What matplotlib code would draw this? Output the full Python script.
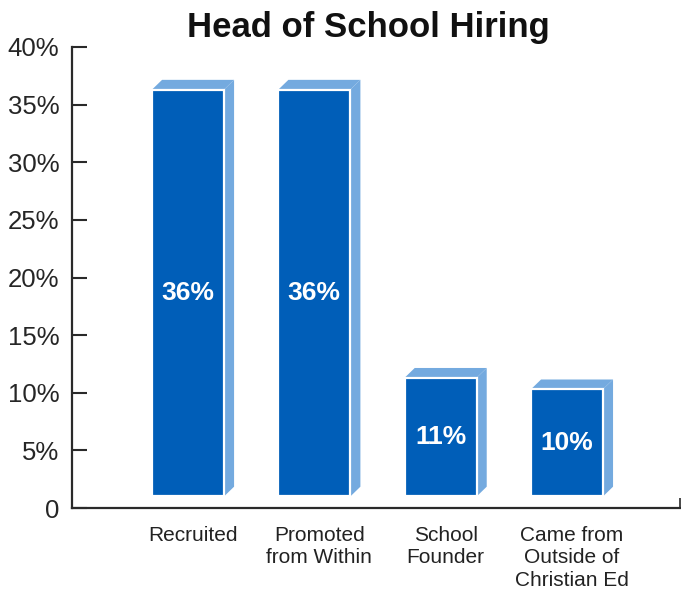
import matplotlib
matplotlib.use("Agg")
from matplotlib import pyplot as plt
from matplotlib.patches import Polygon

plt.rcParams['font.family'] = ['Liberation Sans', 'DejaVu Sans']

categories = ["Recruited", "Promoted\nfrom Within", "School\nFounder",
              "Came from\nOutside of\nChristian Ed"]
values = [36, 36, 11, 10]
yticks = [0, 5, 10, 15, 20, 25, 30, 35, 40]
ytick_labels = ["0", "5%", "10%", "15%", "20%", "25%", "30%", "35%", "40%"]

FRONT = "#005EB8"
SIDE = "#74AADF"
AXIS = "#2a2a2a"

# 3d look: raised floor and depth offsets
base = 1.0
lift = 0.3
width = 0.57
dx = 0.08
dy = 0.85

fig = plt.figure(figsize=(6.81, 5.92), dpi=100)
ax = fig.add_axes([72 / 681, 84 / 592, 608 / 681, 461 / 592])

x = list(range(len(values)))
for xi, v in zip(x, values):
    x0 = xi - width / 2
    x1 = xi + width / 2
    top = v + lift
    side = Polygon([(x1, base), (x1, top), (x1 + dx, top + dy), (x1 + dx, base + dy)],
                   closed=True, facecolor=SIDE, edgecolor="none", zorder=2)
    lid = Polygon([(x0, top), (x1, top), (x1 + dx, top + dy), (x0 + dx, top + dy)],
                  closed=True, facecolor=SIDE, edgecolor="none", zorder=2)
    ax.add_patch(side)
    ax.add_patch(lid)

bars = ax.bar(x, [v + lift - base for v in values], bottom=base, width=width,
              color=FRONT, edgecolor="white", linewidth=1.6, zorder=3)

for xi, v in zip(x, values):
    ax.text(xi, (base + v + lift) / 2, f"{v}%", ha="center", va="center",
            color="white", fontsize=19, fontweight="bold", zorder=4)

ax.set_ylim(0, 40)
ax.set_xlim(-0.918, 3.895)
ax.set_yticks(yticks)
ax.set_yticklabels(ytick_labels, fontsize=18.5, color="#262626")
ax.tick_params(axis="y", direction="in", length=11, width=1.5, color=AXIS, pad=9)

ax.set_xticks([xi + dx / 2 for xi in x])
ax.set_xticklabels(categories, fontsize=15, color="#222222", linespacing=1.22)
ax.tick_params(axis="x", length=0, pad=13)
ax.set_xticks([3.895], minor=True)
ax.tick_params(axis="x", which="minor", direction="in", length=7, width=1.2, color=AXIS)

for s in ["top", "right"]:
    ax.spines[s].set_visible(False)
for s in ["left", "bottom"]:
    ax.spines[s].set_color(AXIS)
    ax.spines[s].set_linewidth(1.6)

fig.text(368 / 681, 1 - 27 / 592, "Head of School Hiring", ha="center", va="center",
         fontsize=25, fontweight="bold", color="#111111")

fig.savefig("out.png", dpi=100)
